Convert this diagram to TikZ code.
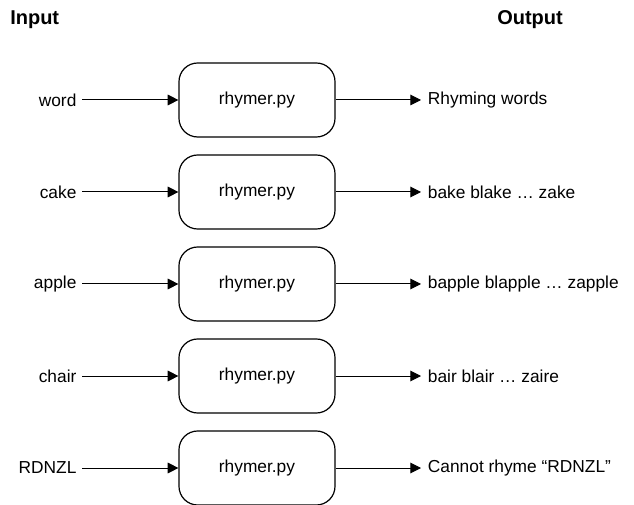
\documentclass[tikz,border=0pt]{standalone}
\usepackage{fontspec}
\setmainfont{Liberation Sans}
\usetikzlibrary{arrows.meta}

\begin{document}
\begin{tikzpicture}[x=0.75pt, y=-0.75pt, every node/.style={font=\fontsize{13}{15}\selectfont},
    script/.style={draw, line width=0.9pt, rounded corners=14pt, minimum width=117pt, minimum height=55.5pt, inner sep=0pt},
    inword/.style={anchor=east, inner sep=4pt},
    outword/.style={anchor=west, inner sep=5pt},
    header/.style={font=\fontsize{15}{18}\selectfont\bfseries, inner sep=0pt},
    flow/.style={line width=0.75pt, -{Triangle[length=8pt, width=8pt]}}]
  \useasboundingbox (0,0) rectangle (634,505);
  \node[header, anchor=west] (inhead) at (10,20) {Input};
  \node[header, anchor=west] (outhead) at (497,20) {Output};
  % word
  \node[inword] (in1) at (82,100) {word};
  \node[script] (rhy1) at (257,100) {rhymer.py};
  \node[outword] (out1) at (421,100) {Rhyming words};
  \draw[flow] (in1) -- (rhy1);
  \draw[flow] (rhy1) -- (out1);
  % cake
  \node[inword] (in2) at (82,192) {cake};
  \node[script] (rhy2) at (257,192) {rhymer.py};
  \node[outword] (out2) at (421,192) {bake blake … zake};
  \draw[flow] (in2) -- (rhy2);
  \draw[flow] (rhy2) -- (out2);
  % apple
  \node[inword] (in3) at (82,284) {apple};
  \node[script] (rhy3) at (257,284) {rhymer.py};
  \node[outword] (out3) at (421,284) {bapple blapple … zapple};
  \draw[flow] (in3) -- (rhy3);
  \draw[flow] (rhy3) -- (out3);
  % chair
  \node[inword] (in4) at (82,376) {chair};
  \node[script] (rhy4) at (257,376) {rhymer.py};
  \node[outword] (out4) at (421,376) {bair blair … zaire};
  \draw[flow] (in4) -- (rhy4);
  \draw[flow] (rhy4) -- (out4);
  % RDNZL
  \node[inword] (in5) at (82,468) {RDNZL};
  \node[script] (rhy5) at (257,468) {rhymer.py};
  \node[outword] (out5) at (421,468) {Cannot rhyme “RDNZL”};
  \draw[flow] (in5) -- (rhy5);
  \draw[flow] (rhy5) -- (out5);
\end{tikzpicture}
\end{document}
